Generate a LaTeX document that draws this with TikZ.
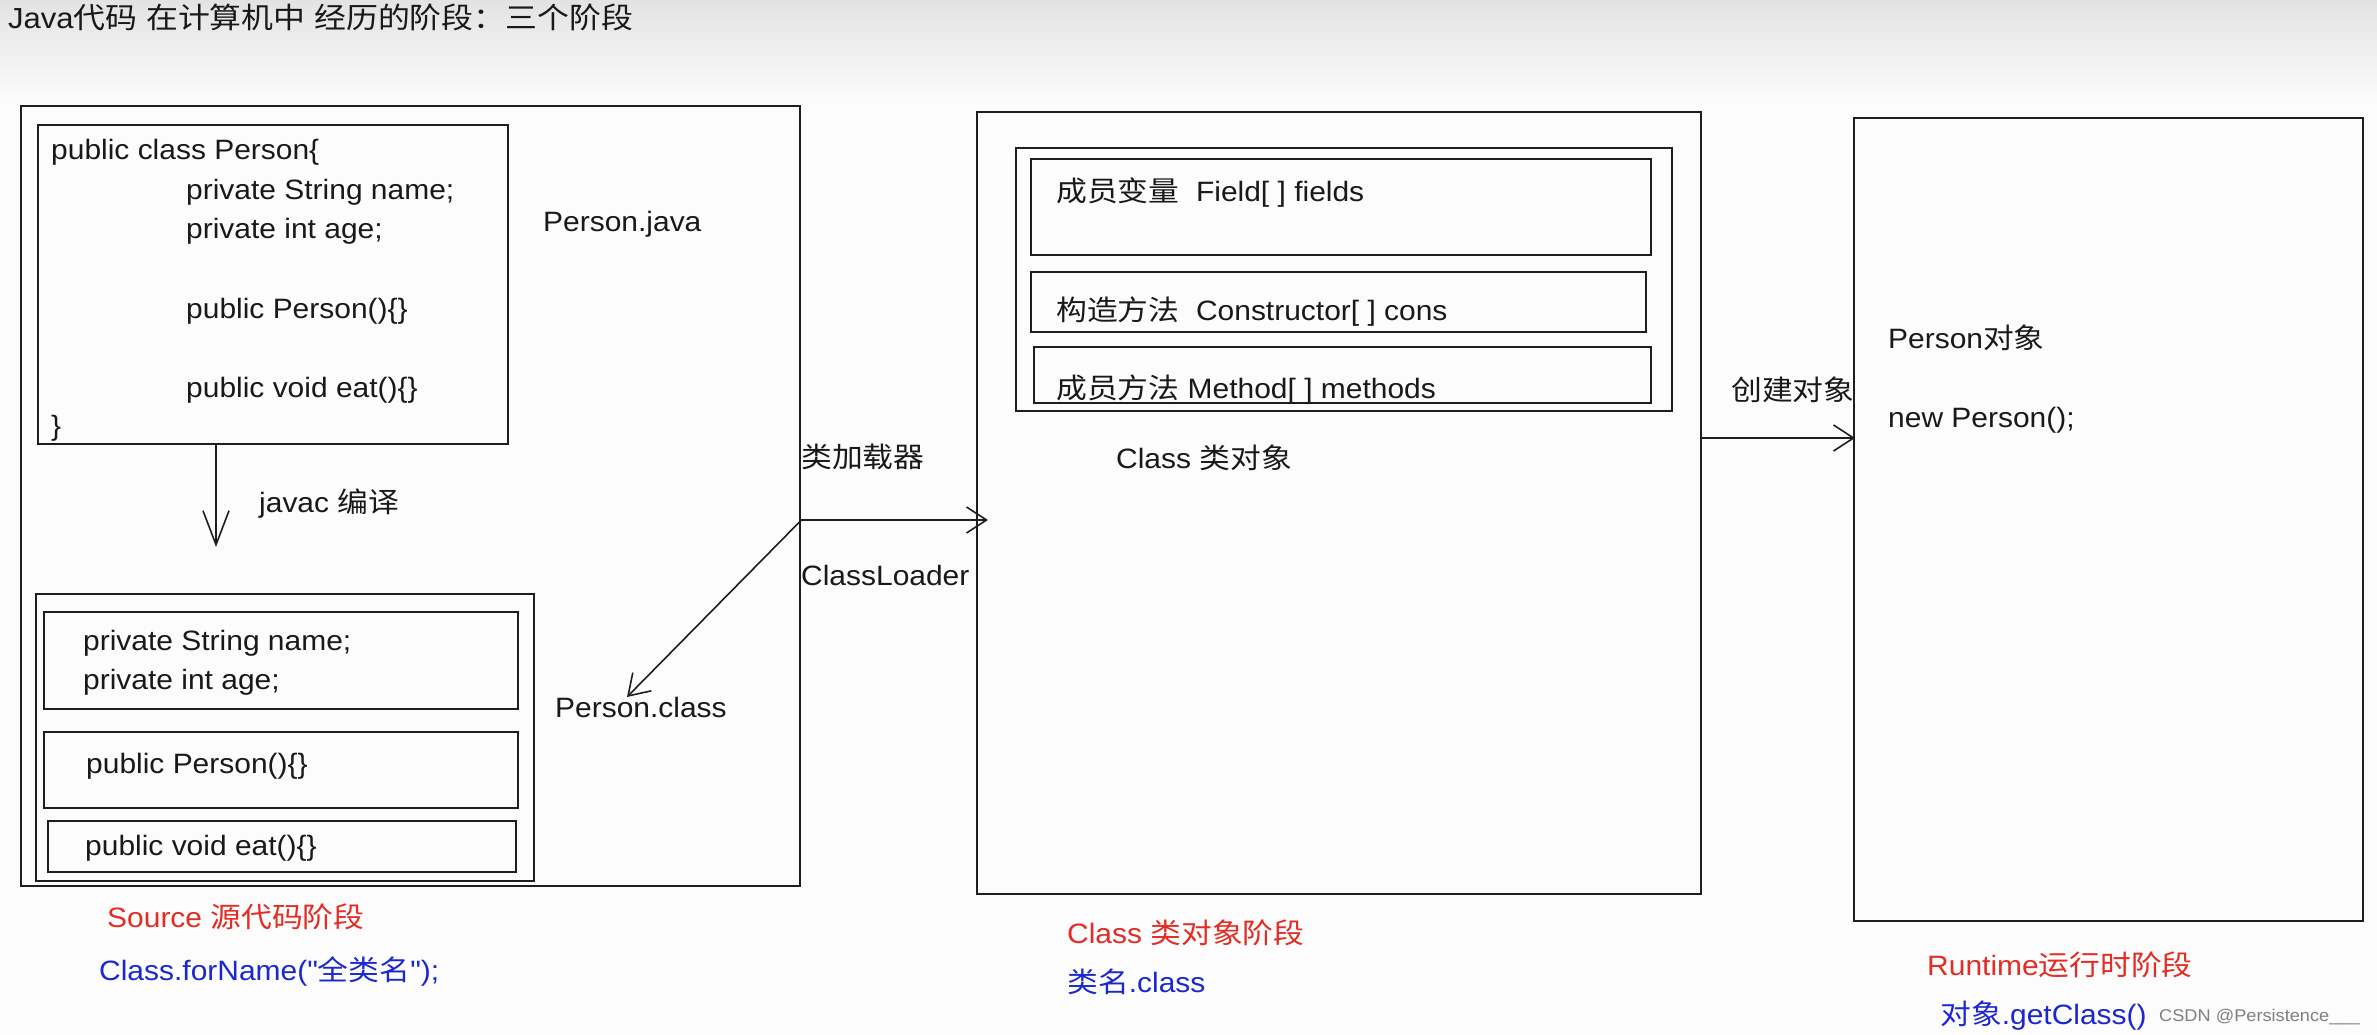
\documentclass[tikz,border=0pt]{standalone}
\usepackage{fontspec}
\newfontfamily\latin{Liberation Sans}[FakeStretch=1.07]
\newfontfamily\cjk{Noto Sans CJK SC}[FakeStretch=1.1]
\newcommand\zh[1]{{\cjk #1}}
\usetikzlibrary{arrows.meta}
\definecolor{stagered}{RGB}{226,44,36}
\definecolor{stageblue}{RGB}{28,40,205}
\definecolor{inkline}{RGB}{30,30,30}
\begin{document}
\begin{tikzpicture}[x=1pt,y=-1pt,
  box/.style={draw=inkline, line width=2.4pt, anchor=north west, inner sep=0pt},
  txt/.style={anchor=base west, inner sep=0pt, font=\fontsize{28}{34}\latin, text=black!90},
  redtxt/.style={txt, text=stagered},
  bluetxt/.style={txt, text=stageblue},
  conn/.style={draw=inkline, line width=1.6pt},
  barb/.style={-{Straight Barb[length=20pt,width=26pt,line width=1.6pt]}},
  bigbarb/.style={-{Straight Barb[length=34pt,width=26pt,line width=1.6pt]}}]
\useasboundingbox (0,0) rectangle (2377,1035);
\fill[white!99!black] (0,0) rectangle (2377,1035);
\shade[top color=black!11, bottom color=white!99!black] (0,0) rectangle (2377,105);

% title
\node[txt, font=\fontsize{29}{34}\latin] (title) at (8,29) {Java\zh{代码} \zh{在计算机中} \zh{经历的阶段：三个阶段}};

% ---------- Source stage ----------
\node[box, minimum width=779pt, minimum height=780pt] (srcOuter) at (20,105) {};
\node[box, minimum width=470pt, minimum height=319pt] (srcTop) at (37,124) {};
\node[txt] (l1) at (51,160) {public class Person\{};
\node[txt] (l2) at (186,200) {private String name;};
\node[txt] (l3) at (186,238) {private int age;};
\node[txt] (l4) at (186,318) {public Person()\{\}};
\node[txt] (l5) at (186,397) {public void eat()\{\}};
\node[txt] (l6) at (51,435) {\}};
\node[txt] (pjava) at (543,232) {Person.java};

\coordinate (javacEnd) at (216,547);
\draw[conn, bigbarb] (srcTop.south -| javacEnd) -- (javacEnd);
\node[txt] (javac) at (259,512) {javac \zh{编译}};

\node[box, minimum width=498pt, minimum height=287pt] (srcBottom) at (35,593) {};
\node[box, minimum width=474pt, minimum height=97pt] (srcF) at (43,611) {};
\node[box, minimum width=474pt, minimum height=76pt] (srcC) at (43,731) {};
\node[box, minimum width=468pt, minimum height=51pt] (srcM) at (47,820) {};
\node[txt] (b1) at (83,650) {private String name;};
\node[txt] (b2) at (83,689) {private int age;};
\node[txt] (b3) at (86,773) {public Person()\{\}};
\node[txt] (b4) at (85,855) {public void eat()\{\}};
\node[txt] (pclass) at (555,717) {Person.class};

\node[redtxt] (srcStage) at (107,927) {Source \zh{源代码阶段}};
\node[bluetxt] (srcCall) at (99,980) {Class.forName("\zh{全类名}");};

% ---------- Class loader ----------
\coordinate (clEnd) at (988,520);
\coordinate (pcEnd) at (627,697);
\draw[conn, barb] (srcOuter.east |- clEnd) -- (clEnd);
\draw[conn, barb] (srcOuter.east |- clEnd) -- (pcEnd);
\node[txt] (loaderZh) at (801,467) {\zh{类加载器}};
\node[txt] (loaderEn) at (801,585) {ClassLoader};

% ---------- Class stage ----------
\node[box, minimum width=724pt, minimum height=782pt] (clsOuter) at (976,111) {};
\node[box, minimum width=656pt, minimum height=263pt] (clsInner) at (1015,147) {};
\node[box, minimum width=620pt, minimum height=96pt] (clsF) at (1030,158) {};
\node[box, minimum width=615pt, minimum height=60pt] (clsC) at (1030,271) {};
\node[box, minimum width=617pt, minimum height=56pt] (clsM) at (1033,346) {};
\node[txt] (f1) at (1056,202) {\zh{成员变量}\ \ Field[ ] fields};
\node[txt] (f2) at (1056,320) {\zh{构造方法}\ \ Constructor[ ] cons};
\node[txt] (f3) at (1056,398) {\zh{成员方法} Method[ ] methods};
\node[txt] (clsLabel) at (1116,468) {Class \zh{类对象}};
\node[redtxt] (clsStage) at (1067,943) {Class \zh{类对象阶段}};
\node[bluetxt] (clsCall) at (1067,992) {\zh{类名}.class};

% ---------- Runtime stage ----------
\node[box, minimum width=509pt, minimum height=803pt] (rtOuter) at (1853,117) {};
\coordinate (rtEnd) at (1855,438);
\draw[conn, barb] (clsOuter.east |- rtEnd) -- (rtEnd);
\node[txt] (create) at (1731,400) {\zh{创建对象}};
\node[txt] (pobj) at (1888,348) {Person\zh{对象}};
\node[txt] (pnew) at (1888,427) {new Person();};
\node[redtxt] (rtStage) at (1927,975) {Runtime\zh{运行时阶段}};
\node[bluetxt] (rtCall) at (1940,1024) {\zh{对象}.getClass()};
\node[txt, font=\fontsize{17}{20}\latin, text=black!50] (csdn) at (2159,1021) {CSDN @Persistence\_\_\_};
\end{tikzpicture}
\end{document}
